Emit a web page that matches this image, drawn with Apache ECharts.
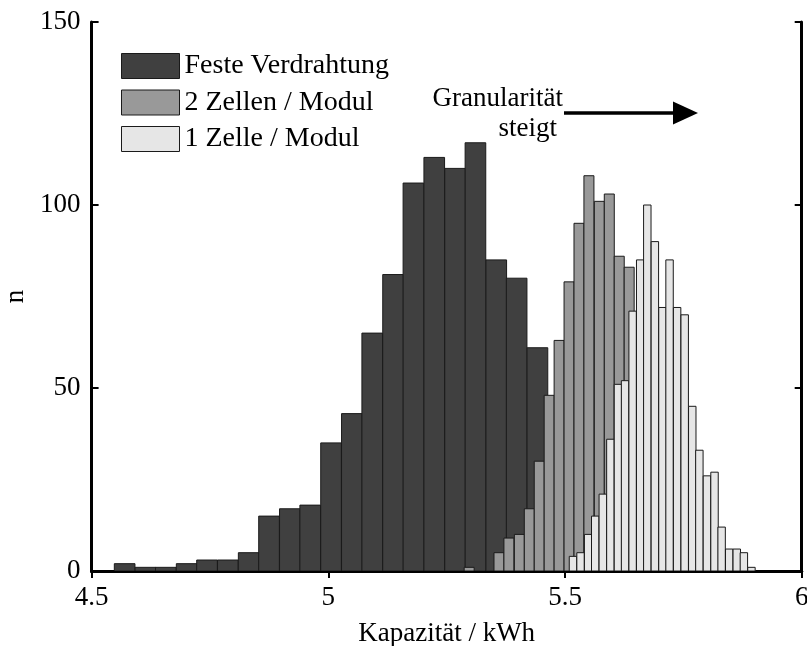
<!DOCTYPE html>
<html>
<head>
<meta charset="utf-8">
<script src="https://cdn.jsdelivr.net/npm/echarts@6/dist/echarts.min.js"></script>
<style>
  html, body { margin: 0; padding: 0; background: #fff; }
  #chart { width: 807px; height: 646px; }
</style>
</head>
<body>
<div id="chart"></div>
<script>
// Histogramme der Modulkapazität (kWh) für drei Verschaltungsvarianten.
// Linke Klassengrenzen und Klassenbreite je Variante, dazu die Häufigkeiten.
const festeLeft = [4.548, 4.592, 4.635, 4.679, 4.722, 4.766, 4.810, 4.853, 4.897, 4.940, 4.984,
                   5.028, 5.071, 5.115, 5.158, 5.202, 5.246, 5.289, 5.333, 5.376, 5.420];
const festeWidth = 0.0436;
const festeCounts = [2, 1, 1, 2, 3, 3, 5, 15, 17, 18, 35, 43, 65, 81, 106, 113, 110, 117, 85, 80, 61];

const zweiLeft = [5.287, 5.350, 5.371, 5.393, 5.414, 5.435, 5.456, 5.477, 5.498, 5.519, 5.540,
                  5.562, 5.583, 5.604, 5.625];
const zweiWidth = 0.0211;
const zweiCounts = [1, 5, 9, 10, 17, 30, 48, 63, 79, 95, 108, 101, 103, 86, 83];

const einsLeft = [5.509, 5.525, 5.541, 5.556, 5.572, 5.588, 5.604, 5.619, 5.635, 5.651, 5.666,
                  5.682, 5.698, 5.713, 5.729, 5.745, 5.761, 5.776, 5.792, 5.808, 5.823,
                  5.839, 5.855, 5.870, 5.886];
const einsWidth = 0.0157;
const einsCounts = [4, 5, 10, 15, 21, 36, 51, 52, 71, 85, 100, 90, 72, 85, 72, 70, 45, 33,
                    26, 27, 12, 6, 6, 5, 1];

const seriesNames = ['Feste Verdrahtung', '2 Zellen / Modul', '1 Zelle / Modul'];
const xTicks = [4.5, 5, 5.5, 6];
const yTicks = [0, 50, 100, 150];

const FONT = '"Liberation Serif", "Times New Roman", serif';
const colors = ['#404040', '#999999', '#e6e6e6'];

function binData(left, width, counts) {
  return counts.map((c, i) => [left[i], left[i] + width, c]);
}

function renderBin(color) {
  return function (params, api) {
    const p0 = api.coord([api.value(0), api.value(2)]);
    const p1 = api.coord([api.value(1), 0]);
    return {
      type: 'rect',
      shape: { x: p0[0], y: p0[1], width: p1[0] - p0[0], height: p1[1] - p0[1] },
      style: { fill: color, stroke: '#1a1a1a', lineWidth: 1 }
    };
  };
}

const chart = echarts.init(document.getElementById('chart'), null, { renderer: 'canvas' });

const axisCommon = {
  axisLine: { show: true, lineStyle: { color: '#000', width: 3 } },
  axisTick: { show: true, inside: true, length: 7, lineStyle: { color: '#000', width: 2 } },
  splitLine: { show: false }
};

const option = {
  backgroundColor: '#fff',
  animation: false,
  textStyle: { fontFamily: FONT },
  grid: { left: 91.6, right: 5.3, top: 22, bottom: 75, containLabel: false, outerBoundsMode: 'none' },
  legend: {
    orient: 'vertical',
    left: 116,
    top: 47,
    itemWidth: 58,
    itemHeight: 25,
    itemGap: 8.5,
    icon: 'rect',
    selectedMode: false,
    textStyle: { fontFamily: FONT, fontSize: 28, color: '#000', padding: [0, 0, 0, 0] },
    data: seriesNames.map((n, i) => ({
      name: n,
      itemStyle: { color: colors[i], borderColor: '#1a1a1a', borderWidth: 1 }
    }))
  },
  xAxis: [
    Object.assign({
      type: 'value', position: 'bottom',
      min: xTicks[0], max: xTicks[xTicks.length - 1], interval: 0.5,
      name: 'Kapazität / kWh', nameLocation: 'middle', nameGap: 49,
      nameTextStyle: { fontFamily: FONT, fontSize: 27, color: '#000' },
      axisLabel: { fontFamily: FONT, fontSize: 27, color: '#000', margin: 13 }
    }, axisCommon),
    Object.assign({
      type: 'value', position: 'top',
      min: xTicks[0], max: xTicks[xTicks.length - 1], interval: 0.5,
      axisLabel: { show: false }
    }, axisCommon)
  ],
  yAxis: [
    Object.assign({
      type: 'value', position: 'left',
      min: yTicks[0], max: yTicks[yTicks.length - 1], interval: 50,
      name: 'n', nameLocation: 'middle', nameGap: 62, nameRotate: 90,
      nameTextStyle: { fontFamily: FONT, fontSize: 27, color: '#000' },
      axisLabel: { fontFamily: FONT, fontSize: 27, color: '#000', margin: 11 }
    }, axisCommon),
    Object.assign({
      type: 'value', position: 'right',
      min: yTicks[0], max: yTicks[yTicks.length - 1], interval: 50,
      axisLabel: { show: false }
    }, axisCommon)
  ],
  series: [
    {
      name: seriesNames[0], type: 'custom', renderItem: renderBin(colors[0]),
      itemStyle: { color: colors[0] }, encode: { x: [0, 1], y: 2 },
      data: binData(festeLeft, festeWidth, festeCounts), clip: true, z: 2
    },
    {
      name: seriesNames[1], type: 'custom', renderItem: renderBin(colors[1]),
      itemStyle: { color: colors[1] }, encode: { x: [0, 1], y: 2 },
      data: binData(zweiLeft, zweiWidth, zweiCounts), clip: true, z: 3
    },
    {
      name: seriesNames[2], type: 'custom', renderItem: renderBin(colors[2]),
      itemStyle: { color: colors[2] }, encode: { x: [0, 1], y: 2 },
      data: binData(einsLeft, einsWidth, einsCounts), clip: true, z: 4
    }
  ],
  graphic: [
    {
      type: 'text', x: 563, y: 99, z: 10,
      style: { text: 'Granularität', font: '27px ' + FONT, fill: '#000', align: 'right', verticalAlign: 'middle' }
    },
    {
      type: 'text', x: 557, y: 129, z: 10,
      style: { text: 'steigt', font: '27px ' + FONT, fill: '#000', align: 'right', verticalAlign: 'middle' }
    },
    {
      type: 'line', z: 10,
      shape: { x1: 564, y1: 113, x2: 676, y2: 113 },
      style: { stroke: '#000', lineWidth: 3.5 }
    },
    {
      type: 'polygon', z: 10,
      shape: { points: [[673, 101.5], [698, 113], [673, 124.5]] },
      style: { fill: '#000' }
    }
  ]
};

chart.setOption(option);
</script>
</body>
</html>
